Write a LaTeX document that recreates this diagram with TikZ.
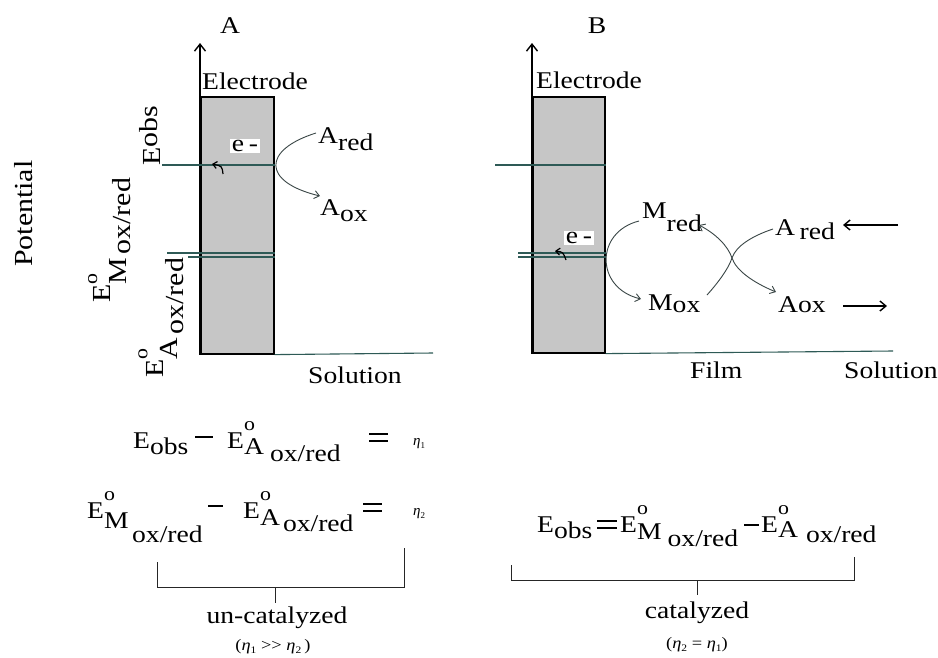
\documentclass[tikz,border=0pt]{standalone}
\usepackage{fontspec}
\setmainfont{Liberation Serif}
\usetikzlibrary{arrows.meta}
\definecolor{lvl}{HTML}{2E5A56}
\definecolor{boxgray}{HTML}{C6C6C6}
\definecolor{curv}{HTML}{3A4646}
\newcommand\wx[1]{\scalebox{1.15}[1]{#1}}
\newcommand\lo[2]{\raisebox{-#1}{#2}}
% E with small o above, a lowered subscript, a gap, and a further lowered sub-subscript
\newcommand\Eo[6]{E\rlap{\raisebox{#3}{\fontsize{19}{19}\selectfont o}}\raisebox{-#4}{#1}\hspace{#6}\raisebox{-#5}{#2}}
\newcommand\etan[1]{{\fontsize{15}{15}\selectfont\itshape η\lo{0.2em}{\fontsize{9}{9}\selectfont\upshape #1}}}
\newcommand\minusbar[2]{\rule[#1]{#2}{2.5pt}}
\newcommand\eqbars[2]{\rlap{\rule[#1]{#2}{2.5pt}}\rule[\dimexpr#1+7pt\relax]{#2}{2.5pt}}
\begin{document}
\begin{tikzpicture}[x=1pt,y=-1pt,
 txt/.style={inner sep=0pt, anchor=base west, font=\fontsize{24}{28}\selectfont},
 rtxt/.style={inner sep=0pt, anchor=base west, rotate=90, font=\fontsize{26}{30}\selectfont},
 eln/.style={draw=black, line width=1.6pt, fill=boxgray, inner sep=0pt, anchor=north west},
 axis/.style={line width=1.6pt, -{Straight Barb[length=7pt,width=11pt,line width=1.4pt]}},
 level/.style={draw=lvl, line width=1.1pt},
 react/.style={draw=curv, line width=0.9pt, -{Straight Barb[length=5pt,width=8pt]}},
 etip/.style={draw=black, line width=1.2pt, -{Straight Barb[length=4pt,width=7pt]}},
 flow/.style={draw=black, line width=1.4pt, -{Straight Barb[length=6pt,width=10pt]}},
 brk/.style={draw=black!85, line width=1pt},
 tag/.style={fill=white, inner sep=1.5pt, font=\fontsize{24}{28}\selectfont},
 cond/.style={inner sep=0pt, anchor=base, font=\fontsize{16}{18}\selectfont},
]
\useasboundingbox (0,0) rectangle (938,657);
\fill[white] (0,0) rectangle (938,657);

% ---------------- Panel A ----------------
\node[eln, minimum width=73pt, minimum height=257pt] (elA) at (200,96) {};
\coordinate (topA) at (200,43);
\draw[axis] (elA.south west) -- (topA);
\coordinate (obsA) at (162,165);
\coordinate (mA) at (167,253);
\coordinate (aA) at (188,257);
\coordinate (solA) at (433,353);
\draw[level] (obsA) -- (obsA -| elA.east);
\draw[level] (mA) -- (mA -| elA.east);
\draw[level] (aA) -- (aA -| elA.east);
\draw[level] (elA.south east) -- (solA);

\node[txt, anchor=base] (labA) at (230,33) {\wx{A}};
\node[txt] (elecA) at (202,89) {\wx{Electrode}};
\node[txt] (solnA) at (308,383) {\wx{Solution}};
\node[tag] (eA) at (245,146) {\wx{e\,-}};
\coordinate (eAt) at (223,174);
\coordinate (eAh) at (212,164);
\draw[etip] (eAt) .. controls (222,166) .. (eAh);

\node[txt] (AredA) at (318,143) {\wx{A\lo{0.3em}{red}}};
\node[txt] (AoxA) at (320,215) {\wx{A\lo{0.28em}{ox}}};
\coordinate (rA1) at (316,133);
\coordinate (rA2) at (320,196);
\draw[react] (rA1) .. controls (262,150) and (262,182) .. (rA2);

\node[rtxt] (pot) at (32,267) {\wx{Potential}};
\node[rtxt] (lobs) at (160,166) {\wx{E\raisebox{0.08em}{obs}}};
\node[rtxt] (lEM) at (110,303) {\wx{\Eo{M}{ox/red}{0.5em}{0.65em}{0.77em}{0.12em}}};
\node[rtxt] (lEA) at (163,378) {\wx{\Eo{A}{ox/red}{0.6em}{0.54em}{0.77em}{0.12em}}};

% ---------------- Panel B ----------------
\node[eln, minimum width=72pt, minimum height=256pt] (elB) at (532,96) {};
\coordinate (topB) at (532,43);
\draw[axis] (elB.south west) -- (topB);
\coordinate (obsB) at (495,165);
\coordinate (mB) at (518,253);
\coordinate (aB) at (518,257);
\coordinate (solB) at (893,351);
\draw[level] (obsB) -- (obsB -| elB.east);
\draw[level] (mB) -- (mB -| elB.east);
\draw[level] (aB) -- (aB -| elB.east);
\draw[level] (elB.south east) -- (solB);

\node[txt, anchor=base] (labB) at (597,33) {\wx{B}};
\node[txt] (elecB) at (536,88) {\wx{Electrode}};
\node[txt] (film) at (690,378) {\wx{Film}};
\node[txt] (solnB) at (844,378) {\wx{Solution}};
\node[tag] (eB) at (579,238) {\wx{e\,-}};
\coordinate (eBt) at (566,260);
\coordinate (eBh) at (555,251);
\draw[etip] (eBt) .. controls (563,252) .. (eBh);

\node[txt] (Mred) at (642,218) {\wx{M\lo{0.55em}{red}}};
\node[txt] (Mox) at (648,310) {\wx{M\lo{0.1em}{ox}}};
\node[txt] (AredB) at (775,235) {\wx{A\,\lo{0.2em}{red}}};
\node[txt] (AoxB) at (778,312) {\wx{A\lo{0.03em}{ox}}};

\coordinate (mc1) at (639,221);
\coordinate (mc2) at (641,299);
\draw[react] (mc1) .. controls (595,232) and (595,288) .. (mc2);
\coordinate (kiss) at (732,258);
\coordinate (ar1) at (773,229);
\coordinate (mr1) at (699,225);
\coordinate (mo1) at (707,295);
\coordinate (ao1) at (776,292);
\draw[react] (ar1) .. controls (752,236) and (736,246) .. (kiss) .. controls (728,246) and (716,234) .. (mr1);
\draw[react] (mo1) .. controls (716,285) and (728,270) .. (kiss) .. controls (736,270) and (752,282) .. (ao1);

\coordinate (inS) at (898,225);
\coordinate (inE) at (843,225);
\coordinate (outS) at (843,306);
\coordinate (outE) at (887,306);
\draw[flow] (inS) -- (inE);
\draw[flow] (outS) -- (outE);

% ---------------- Equations ----------------
\node[txt] (eq1a) at (133,448) {\wx{E\lo{0.28em}{obs}}};
\node[txt] (eq1m) at (195,448) {\minusbar{10pt}{18pt}};
\node[txt] (eq1b) at (227,448) {\wx{\Eo{A}{ox/red}{0.72em}{0.25em}{0.55em}{0.22em}}};
\node[txt] (eq1c) at (369,448) {\eqbars{6pt}{19pt}};
\node[txt] (eq1d) at (413,445) {\etan{1}};

\node[txt] (eq2a) at (87,518) {\wx{\Eo{M}{ox/red}{0.72em}{0.45em}{1.0em}{0.13em}}};
\node[txt] (eq2m) at (208,518) {\minusbar{11pt}{15pt}};
\node[txt] (eq2b) at (243,518) {\wx{\Eo{A}{ox/red}{0.72em}{0.3em}{0.55em}{0.11em}}};
\node[txt] (eq2c) at (363,518) {\eqbars{6pt}{19pt}};
\node[txt] (eq2d) at (413,515) {\etan{2}};

\node[txt] (eqB1) at (537,532) {\wx{E\lo{0.28em}{obs}}};
\node[txt] (eqB2) at (597,532) {\eqbars{3pt}{20pt}};
\node[txt] (eqB3) at (620,532) {\wx{\Eo{M}{ox/red}{0.72em}{0.3em}{0.6em}{0.22em}}};
\node[txt] (eqB4) at (744,532) {\minusbar{6pt}{15pt}};
\node[txt] (eqB5) at (761,532) {\wx{\Eo{A}{ox/red}{0.72em}{0.22em}{0.45em}{0.29em}}};

% brackets
\coordinate (bAl) at (157,562);
\coordinate (bAr) at (404,548);
\coordinate (bAm) at (275,587);
\coordinate (bAt) at (275,603);
\draw[brk] (bAl) -- (bAl |- bAm) -- (bAr |- bAm) -- (bAr);
\draw[brk] (bAm) -- (bAt);
\coordinate (bBl) at (511,565);
\coordinate (bBr) at (854,557);
\coordinate (bBm) at (697,580);
\coordinate (bBt) at (697,595);
\draw[brk] (bBl) -- (bBl |- bBm) -- (bBr |- bBm) -- (bBr);
\draw[brk] (bBm) -- (bBt);

\node[txt, anchor=base] (uncat) at (277,623) {\wx{un-catalyzed}};
\node[cond] (uncond) at (273,650) {\wx{(\textit{η}\lo{0.2em}{\fontsize{10}{10}\selectfont 1} >{}> \textit{η}\lo{0.2em}{\fontsize{10}{10}\selectfont 2}\,)}};
\node[txt, anchor=base] (cat) at (697,618) {\wx{catalyzed}};
\node[cond] (catcond) at (697,648) {\wx{(\textit{η}\lo{0.2em}{\fontsize{10}{10}\selectfont 2} = \textit{η}\lo{0.2em}{\fontsize{10}{10}\selectfont 1})}};
\end{tikzpicture}
\end{document}
